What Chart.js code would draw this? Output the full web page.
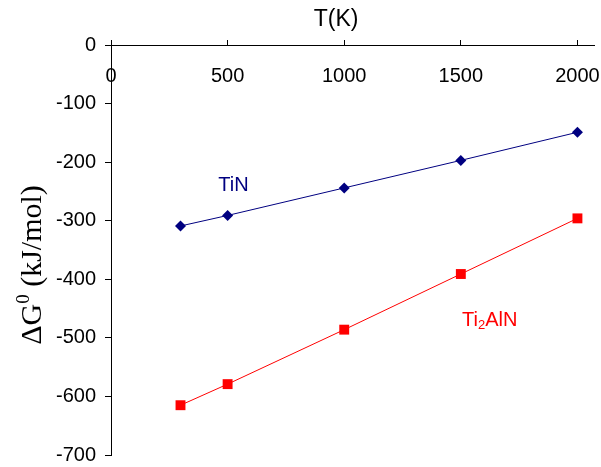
<!DOCTYPE html>
<html>
<head>
<meta charset="utf-8">
<script src="https://cdn.jsdelivr.net/npm/chart.js@4.4.0/dist/chart.umd.min.js"></script>
<style>
  html, body { margin: 0; padding: 0; background: #fff; }
</style>
</head>
<body>
<canvas id="myChart" width="601" height="467"></canvas>
<script>
// data
var temps = [298, 500, 1000, 1500, 2000];
var tinValues = [-309, -291, -244, -197, -149];
var ti2alnValues = [-615, -579, -486, -391, -296];
var xTicks = [0, 500, 1000, 1500, 2000];
var yTicks = [0, -100, -200, -300, -400, -500, -600, -700];

var sans = '"Liberation Sans", Arial, sans-serif';
var serif = '"Liberation Serif", "Times New Roman", serif';

function points(vals) {
    return temps.map(function (t, i) { return { x: t, y: vals[i] }; });
}

// texts drawn on top: axis titles and the two series labels
var textPlugin = {
    id: 'texts',
    afterDraw: function (chart) {
        var ctx = chart.ctx;
        var xs = chart.scales.x, ys = chart.scales.y;
        ctx.save();
        ctx.textBaseline = 'middle';

        // T(K)
        ctx.fillStyle = '#000';
        ctx.font = '23px ' + sans;
        ctx.textAlign = 'center';
        ctx.fillText('T(K)', xs.getPixelForValue(965), chart.chartArea.top - 25);

        // TiN
        ctx.fillStyle = '#000080';
        ctx.font = '20px ' + sans;
        ctx.textAlign = 'left';
        ctx.fillText('TiN', xs.getPixelForValue(460), ys.getPixelForValue(-239));

        // Ti2AlN with subscript
        ctx.fillStyle = '#ff0000';
        var x0 = xs.getPixelForValue(1505), y0 = ys.getPixelForValue(-470);
        ctx.font = '20px ' + sans;
        ctx.fillText('Ti', x0, y0);
        x0 += ctx.measureText('Ti').width;
        ctx.font = '13px ' + sans;
        ctx.fillText('2', x0, y0 + 5);
        x0 += ctx.measureText('2').width;
        ctx.font = '20px ' + sans;
        ctx.fillText('AlN', x0, y0);

        // y title, rotated, with superscript 0
        ctx.fillStyle = '#000';
        ctx.translate(31, 265);
        ctx.rotate(-Math.PI / 2);
        ctx.textBaseline = 'alphabetic';
        ctx.font = '30px ' + serif;
        var a = 'ΔG', b = '0', c = ' (kJ/mol)';
        var wa = ctx.measureText(a).width, wc = ctx.measureText(c).width;
        ctx.font = '19px ' + serif;
        var wb = ctx.measureText(b).width;
        var x = -(wa + wb + wc) / 2;
        ctx.font = '30px ' + serif;
        ctx.fillText(a, x, 10);
        ctx.font = '19px ' + serif;
        ctx.fillText(b, x + wa, -2);
        ctx.font = '30px ' + serif;
        ctx.fillText(c, x + wa + wb, 10);
        ctx.restore();
    }
};

var myChart = document.getElementById('myChart').getContext('2d');
Chart.defaults.font.family = sans;
Chart.defaults.font.size = 20;
Chart.defaults.color = '#000';

var gibbsChart = new Chart(myChart, {
    type: 'line',
    data: {
        datasets: [{
            label: 'TiN',
            data: points(tinValues),
            borderColor: '#000080',
            backgroundColor: '#000080',
            borderWidth: 1,
            pointStyle: 'rectRot',
            pointRadius: 5.5,
            pointBorderWidth: 0
        }, {
            label: 'Ti2AlN',
            data: points(ti2alnValues),
            borderColor: '#ff0000',
            backgroundColor: '#ff0000',
            borderWidth: 1,
            pointStyle: 'rect',
            pointRadius: 7,
            pointBorderWidth: 0
        }]
    },
    options: {
        responsive: false,
        animation: false,
        layout: {
            padding: { top: 45, right: 0, bottom: 12, left: 0 }
        },
        scales: {
            x: {
                type: 'linear',
                min: 0,
                max: 2071,
                position: { y: 0 },
                afterBuildTicks: function (s) {
                    s.ticks = xTicks.map(function (v) { return { value: v }; });
                },
                afterFit: function (s) { s.paddingLeft = 0; s.paddingRight = 0; },
                border: { color: '#000', width: 1 },
                grid: { drawOnChartArea: false, drawTicks: true, tickLength: -6, color: '#000' },
                ticks: {
                    padding: 25, maxRotation: 0, font: { size: 20 },
                    callback: function (v) { return String(v); }
                }
            },
            y: {
                type: 'linear',
                min: -700,
                max: 0,
                position: 'left',
                afterBuildTicks: function (s) {
                    s.ticks = yTicks.map(function (v) { return { value: v }; });
                },
                afterFit: function (s) { s.width = 111; s.paddingTop = 0; s.paddingBottom = 0; },
                border: { color: '#000', width: 1 },
                grid: { drawOnChartArea: false, drawTicks: true, tickLength: 6, color: '#000' },
                ticks: {
                    padding: 9, font: { size: 20 },
                    callback: function (v) { return String(v); }
                }
            }
        },
        plugins: {
            legend: { display: false },
            tooltip: { enabled: false },
            title: { display: false }
        }
    },
    plugins: [textPlugin]
});
</script>
</body>
</html>
